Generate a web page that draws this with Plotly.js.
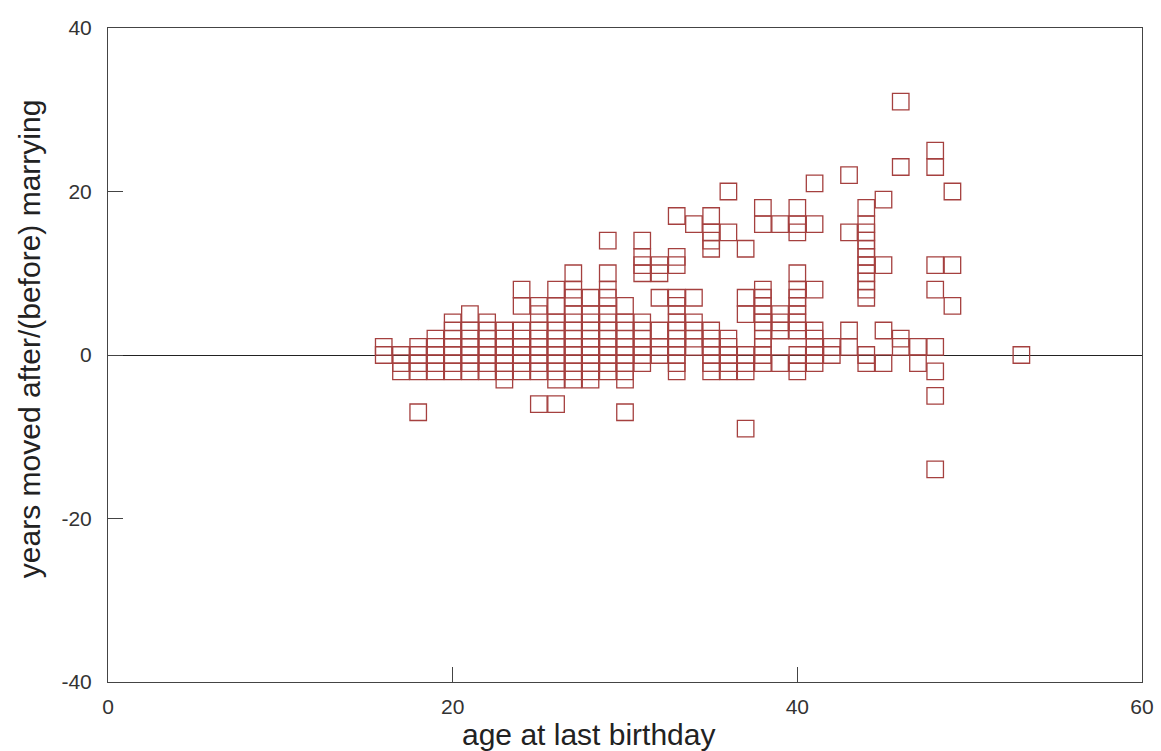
<!DOCTYPE html>
<html>
<head>
<meta charset="utf-8">
<script src="https://cdn.plot.ly/plotly-3.0.1.min.js"></script>
<style>
html,body{margin:0;padding:0;background:#fff;}
#chart{width:1161px;height:751px;}
</style>
</head>
<body>
<div id="chart"></div>
<script>
// age at last birthday (one entry per respondent)
const ages = [
  16,16,
  17,17,17,
  18,18,18,18,18,
  19,19,19,19,19,
  20,20,20,20,20,20,20,
  21,21,21,21,21,21,21,
  22,22,22,22,22,22,22,
  23,23,23,23,23,23,23,
  24,24,24,24,24,24,24,24,
  25,25,25,25,25,25,25,25,25,
  26,26,26,26,26,26,26,26,26,26,26,
  27,27,27,27,27,27,27,27,27,27,27,27,
  28,28,28,28,28,28,28,28,28,28,
  29,29,29,29,29,29,29,29,29,29,29,29,
  30,30,30,30,30,30,30,30,30,30,
  31,31,31,31,31,31,31,31,31,31,
  32,32,32,32,32,32,
  33,33,33,33,33,33,33,33,33,33,33,33,33,
  34,34,34,34,34,34,
  35,35,35,35,35,35,35,35,35,35,
  36,36,36,36,36,36,36,
  37,37,37,37,37,37,37,
  38,38,38,38,38,38,38,38,38,38,38,38,
  39,39,39,39,39,
  40,40,40,40,40,40,40,40,40,40,40,40,40,
  41,41,41,41,41,41,41,41,
  42,42,
  43,43,43,43,
  44,44,44,44,44,44,44,44,44,44,44,44,44,
  45,45,45,45,
  46,46,46,46,
  47,47,
  48,48,48,48,48,48,48,48,
  49,49,49,
  53
];
// years moved after/(before) marrying
const yearsMoved = [
  1,0,
  0,-1,-2,
  1,0,-1,-2,-7,
  2,1,0,-1,-2,
  4,3,2,1,0,-1,-2,
  5,3,2,1,0,-1,-2,
  4,3,2,1,0,-1,-2,
  3,2,1,0,-1,-2,-3,
  8,6,3,2,1,0,-1,-2,
  6,5,3,2,1,0,-1,-2,-6,
  8,6,4,3,2,1,0,-1,-2,-3,-6,
  10,8,7,5,4,3,2,1,0,-1,-2,-3,
  7,5,4,3,2,1,0,-1,-2,-3,
  14,10,8,7,5,4,3,2,1,0,-1,-2,
  6,4,3,2,1,0,-1,-2,-3,-7,
  14,12,11,10,4,3,2,1,0,-1,
  11,10,7,3,1,0,
  17,12,11,7,6,5,4,3,2,1,0,-1,-2,
  16,7,4,3,2,1,
  17,15,14,13,3,2,1,0,-1,-2,
  20,15,2,1,0,-1,-2,
  13,7,5,0,-1,-2,-9,
  18,16,8,7,6,5,4,3,2,1,0,-1,
  16,5,4,3,-1,
  18,16,15,10,8,7,6,5,4,3,0,-1,-2,
  21,16,8,3,2,1,0,-1,
  1,0,
  22,15,3,1,
  18,16,15,14,13,12,11,10,9,8,7,0,-1,
  19,11,3,-1,
  31,23,2,1,
  1,-1,
  25,23,11,8,1,-2,-5,-14,
  20,11,6,
  0
];
const xTicks = [0, 20, 40, 60];
const yTicks = [-40, -20, 0, 20, 40];

const font = "Liberation Sans, Arial, sans-serif";

const trace = {
  type: 'scatter',
  mode: 'markers',
  x: ages,
  y: yearsMoved,
  marker: {
    symbol: 'square-open',
    size: 16.5,
    color: '#a5403f',
    line: {width: 1.3, color: '#a5403f'}
  },
  hoverinfo: 'x+y',
  showlegend: false
};

const layout = {
  width: 1161,
  height: 751,
  margin: {l: 108, r: 19, t: 28, b: 69, pad: 0},
  paper_bgcolor: '#ffffff',
  plot_bgcolor: '#ffffff',
  font: {family: font, size: 21, color: '#333'},
  xaxis: {
    range: [0, 60],
    tickvals: xTicks,
    ticktext: xTicks.map(String),
    ticks: 'inside',
    ticklen: 15,
    tickwidth: 1,
    tickcolor: '#444',
    ticklabelstandoff: 6,
    showline: true,
    linecolor: '#444',
    linewidth: 1,
    mirror: true,
    showgrid: false,
    zeroline: false,
    tickfont: {family: font, size: 21, color: '#333'},
    fixedrange: true
  },
  yaxis: {
    range: [-40, 40],
    tickvals: yTicks,
    ticktext: yTicks.map(String),
    ticks: 'inside',
    ticklen: 15,
    tickwidth: 1,
    tickcolor: '#444',
    ticklabelstandoff: 11,
    showline: true,
    linecolor: '#444',
    linewidth: 1,
    mirror: true,
    showgrid: false,
    zeroline: true,
    zerolinecolor: '#222',
    zerolinewidth: 1,
    tickfont: {family: font, size: 21, color: '#333'},
    fixedrange: true
  },
  annotations: [
    {
      text: 'age at last birthday',
      xref: 'paper', yref: 'paper',
      x: 0.465, y: -0.052,
      xanchor: 'center', yanchor: 'top',
      showarrow: false,
      font: {family: font, size: 30, color: '#222'}
    },
    {
      text: 'years moved after/(before) marrying',
      xref: 'paper', yref: 'paper',
      x: -0.058, y: 0.525,
      xanchor: 'right', yanchor: 'middle',
      textangle: -90,
      showarrow: false,
      font: {family: font, size: 30, color: '#222'}
    }
  ]
};

Plotly.newPlot('chart', [trace], layout, {displayModeBar: false, staticPlot: true});
</script>
</body>
</html>
